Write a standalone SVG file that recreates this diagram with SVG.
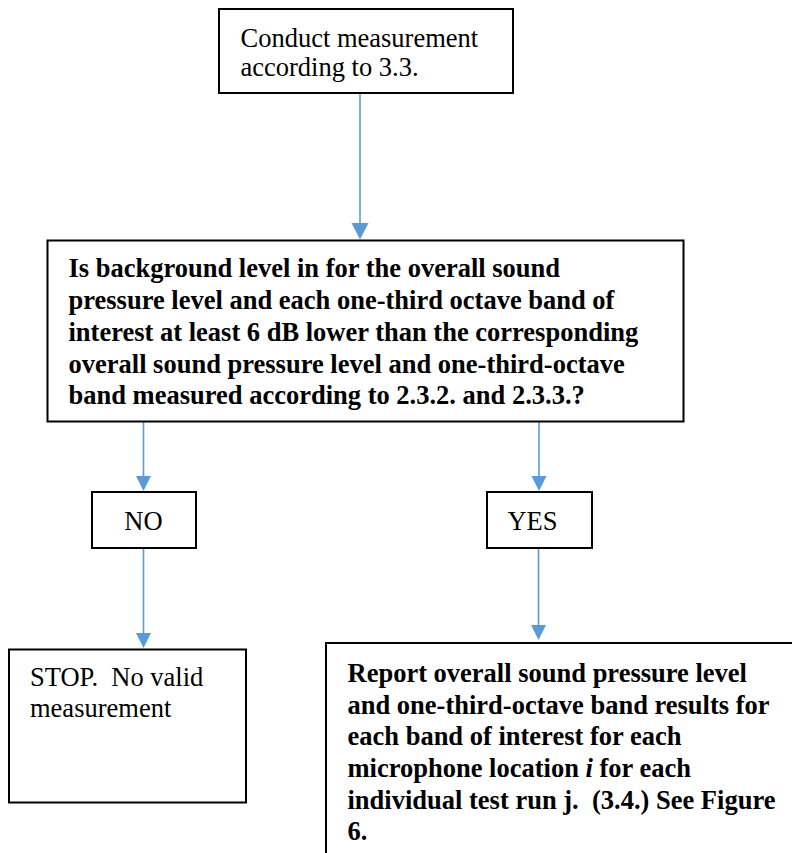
<svg xmlns="http://www.w3.org/2000/svg" width="792" height="853" viewBox="0 0 792 853">
<defs>
<style>
.box{fill:#fff;stroke:#000;stroke-width:2}
.t{font-family:"Liberation Serif","Times New Roman",serif;font-size:26.5px;fill:#000}
.b{font-weight:bold}
.c{text-anchor:middle}
.ln{stroke:#5B9BD5;stroke-width:1.6;fill:none}
.ah{fill:#5B9BD5}
</style>
</defs>
<rect width="792" height="853" fill="#fff"/>
<g id="connectors">
<line class="ln" x1="360" y1="93" x2="360" y2="226"/>
<line class="ln" x1="143.5" y1="421" x2="143.5" y2="478"/>
<line class="ln" x1="539" y1="421" x2="539" y2="478"/>
<line class="ln" x1="143.5" y1="548" x2="143.5" y2="635"/>
<line class="ln" x1="538.5" y1="548" x2="538.5" y2="627"/>
<polygon class="ah" points="351.5,223 368.5,223 360,239.5"/>
<polygon class="ah" points="136,476 151,476 143.5,491"/>
<polygon class="ah" points="531.5,476 546.5,476 539,491"/>
<polygon class="ah" points="136,633 151,633 143.5,648"/>
<polygon class="ah" points="531,625 546,625 538.5,640"/>
</g>
<g id="start">
<rect class="box" x="219" y="9" width="294" height="84"/>
<text class="t" x="240.5" y="47">Conduct measurement</text>
<text class="t" x="240.5" y="76">according to 3.3.</text>
</g>
<g id="decision">
<rect class="box" x="47.5" y="240.5" width="636" height="181"/>
<text class="t b" x="68.5" y="277">Is background level in for the overall sound</text>
<text class="t b" x="68.5" y="309">pressure level and each one-third octave band of</text>
<text class="t b" x="68.5" y="341">interest at least 6 dB lower than the corresponding</text>
<text class="t b" x="68.5" y="372.5">overall sound pressure level and one-third-octave</text>
<text class="t b" x="68.5" y="404">band measured according to 2.3.2. and 2.3.3.?</text>
</g>
<g id="no">
<rect class="box" x="92" y="492" width="104" height="56"/>
<text class="t c" x="143.5" y="530">NO</text>
</g>
<g id="yes">
<rect class="box" x="487" y="492" width="105" height="56"/>
<text class="t c" x="532.5" y="530">YES</text>
</g>
<g id="stop">
<rect class="box" x="9" y="649.5" width="237" height="153"/>
<text class="t" x="30" y="685.5" xml:space="preserve">STOP.  No valid</text>
<text class="t" x="30" y="717">measurement</text>
</g>
<g id="report">
<rect class="box" x="326" y="643" width="480" height="230"/>
<text class="t b" x="347.5" y="682">Report overall sound pressure level</text>
<text class="t b" x="347.5" y="713.5">and one-third-octave band results for</text>
<text class="t b" x="347.5" y="745">each band of interest for each</text>
<text class="t b" x="347.5" y="777">microphone location <tspan font-style="italic">i</tspan> for each</text>
<text class="t b" x="347.5" y="808.5" xml:space="preserve">individual test run j.  (3.4.) See Figure</text>
<text class="t b" x="347.5" y="840">6.</text>
</g>
</svg>
